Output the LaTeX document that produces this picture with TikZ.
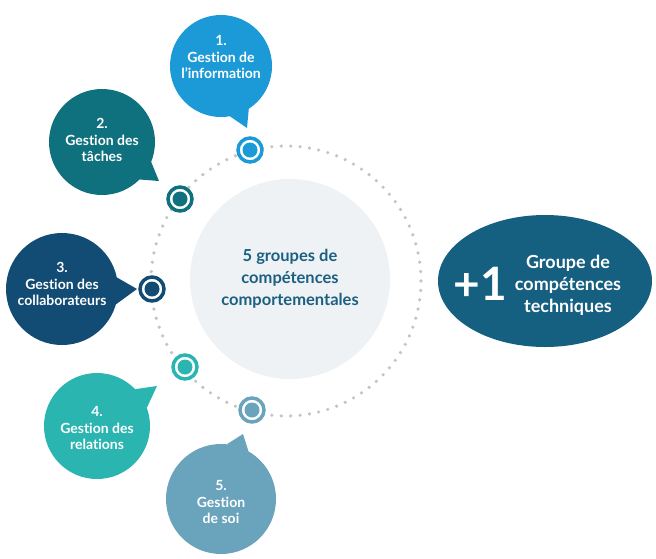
\documentclass[tikz,border=0pt]{standalone}
\usepackage{fontspec}
\setmainfont{Lato}[Ligatures=NoCommon]
\usetikzlibrary{shapes.geometric}
\definecolor{cA}{HTML}{1B9AD7}
\definecolor{cB}{HTML}{0F717E}
\definecolor{cC}{HTML}{124B73}
\definecolor{cD}{HTML}{2AB5B1}
\definecolor{cE}{HTML}{6AA4BC}
\definecolor{cEll}{HTML}{155F80}
\definecolor{cTxt}{HTML}{1B5F82}
\definecolor{cBg}{HTML}{EEF2F4}
\definecolor{cDot}{HTML}{C4C4C4}
\tikzset{
  bubble/.style={circle, fill=#1, inner sep=0pt, outer sep=0pt},
  btext/.style={text=white, font=\bfseries\fontsize{14}{16.5}\selectfont, align=center},
  marker/.style={circle, draw=#1, line width=3.5pt, fill=white, minimum size=24pt, inner sep=0pt,
    path picture={\fill[#1] (path picture bounding box.center) circle (7.5pt);}},
}
\begin{document}
\begin{tikzpicture}[x=1pt,y=-1pt]
\useasboundingbox (0,0) rectangle (656,558);
% dotted ring
\coordinate (o) at (286,281);
\foreach \a in {0,4,...,356} \fill[cDot] (o) ++(\a:135) circle (1.8pt);
% centre
\node[circle, fill=cBg, minimum size=200pt, inner sep=0pt, text=cTxt,
  font=\bfseries\fontsize{16.5}{22}\selectfont, align=center] (c) at (290,279)
  {5 groupes de\\compétences\\comportementales};
% bubbles
\node[bubble=cA, minimum size=102pt] (b1) at (221,66) {};
\coordinate (k1) at (247,128);
\fill[cA] (b1.-57) -- (k1) -- (b1.-80) -- cycle;
\node[btext] (t1) at (221,57) {1.\\Gestion de\\l’information};

\node[bubble=cB, minimum size=106pt] (b2) at (102,142) {};
\coordinate (k2) at (159,181);
\fill[cB] (b2.-22) -- (k2) -- (b2.-45) -- cycle;
\node[btext] (t2) at (102,140) {2.\\Gestion des\\tâches};

\node[bubble=cC, minimum size=112pt] (b3) at (62,289) {};
\coordinate (k3) at (137,289);
\fill[cC] (b3.12) -- (k3) -- (b3.-16) -- cycle;
\node[btext] (t3) at (62,284) {3.\\Gestion des\\collaborateurs};

\node[bubble=cD, minimum size=106pt] (b4) at (97,426) {};
\coordinate (k4) at (157,386);
\fill[cD] (b4.44) -- (k4) -- (b4.20) -- cycle;
\node[btext] (t4) at (97,428) {4.\\Gestion des\\relations};

\node[bubble=cE, minimum size=110pt] (b5) at (221,499) {};
\coordinate (k5) at (243,434);
\fill[cE] (b5.84) -- (k5) -- (b5.60) -- cycle;
\node[btext] (t5) at (221,502) {5.\\Gestion\\de soi};
% markers
\node[marker=cA] (m1) at (250,150) {};
\node[marker=cB] (m2) at (180,199) {};
\node[marker=cC] (m3) at (152,289) {};
\node[marker=cD] (m4) at (185,367) {};
\node[marker=cE] (m5) at (252,410) {};
% ellipse
\node[ellipse, fill=cEll, minimum width=214pt, minimum height=132pt, inner sep=0pt] (e) at (545,281) {};
\node[text=white, font=\bfseries\fontsize{46}{46}\selectfont, inner sep=0pt] (p) at (480,284) {+1};
\node[text=white, font=\bfseries\fontsize{18}{22}\selectfont, align=center] (et) at (568,285)
  {Groupe de\\compétences\\techniques};
\end{tikzpicture}
\end{document}
